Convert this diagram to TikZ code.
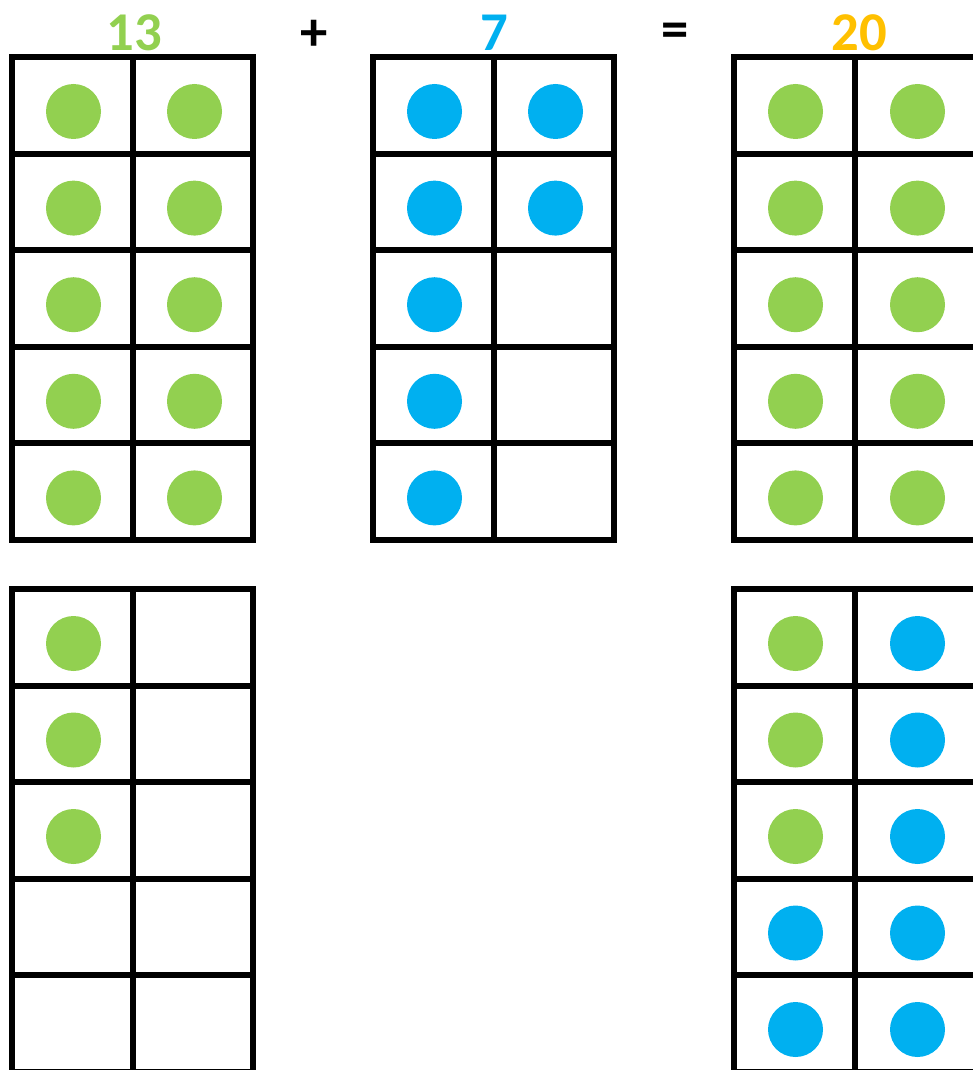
\documentclass[tikz,border=0pt]{standalone}
\usepackage{fontspec}
\setmainfont{Carlito}
\definecolor{dotgreen}{HTML}{92D050}
\definecolor{dotblue}{HTML}{00B0F0}
\definecolor{sumorange}{HTML}{FFC000}

\begin{document}
\begin{tikzpicture}[x=0.75pt, y=-0.75pt,
  frame/.style={line width=4.5pt},
  lbl/.style={font=\fontsize{41}{41}\selectfont\bfseries, inner sep=0pt}]
  \useasboundingbox (0,0) rectangle (973,1070);
  % sum above the frames
  \node[lbl, text=dotgreen] (numA) at (134,32.5) {13};
  \node[lbl] (plus) at (314.5,35) {+};
  \node[lbl, text=dotblue] (numB) at (494,32.5) {7};
  \node[lbl] (equals) at (675.5,35) {=};
  \node[lbl, text=sumorange] (numC) at (859,32.5) {20};
  % ten frames: top row and bottom row
  \foreach \fx/\fy/\w/\h in {12/57/241/96.6, 373/57/241/96.6, 734/57/244/96.6,
      12/589/241/96.5, 734/589/244/96.5} {
    \draw[frame] (\fx,\fy) rectangle ++(\w,5*\h);
    \draw[frame] (\fx+121,\fy) -- ++(0,5*\h);
    \foreach \r in {1,...,4}
      \draw[frame] (\fx,\fy+\r*\h) -- ++(\w,0);
  }
  % 13: a full frame of green
  \foreach \c in {0,1}
    \foreach \r in {0,...,4}
      \fill[dotgreen] (73.5+\c*121,111.5+\r*96.6) circle (27.5);
  % 13: three more below
  \foreach \r in {0,1,2}
    \fill[dotgreen] (73.5,643.5+\r*96.5) circle (27.5);
  % 7 in blue
  \foreach \c/\r in {0/0, 1/0, 0/1, 1/1, 0/2, 0/3, 0/4}
    \fill[dotblue] (434.5+\c*121,111.5+\r*96.6) circle (27.5);
  % 20: green frame on top
  \foreach \c in {0,1}
    \foreach \r in {0,...,4}
      \fill[dotgreen] (795.5+\c*122,111.5+\r*96.6) circle (27.5);
  % 20: three green, seven blue below
  \foreach \c/\r/\col in {0/0/dotgreen, 0/1/dotgreen, 0/2/dotgreen,
      1/0/dotblue, 1/1/dotblue, 1/2/dotblue, 0/3/dotblue, 1/3/dotblue,
      0/4/dotblue, 1/4/dotblue}
    \fill[\col] (795.5+\c*122,643.5+\r*96.5) circle (27.5);
\end{tikzpicture}
\end{document}
